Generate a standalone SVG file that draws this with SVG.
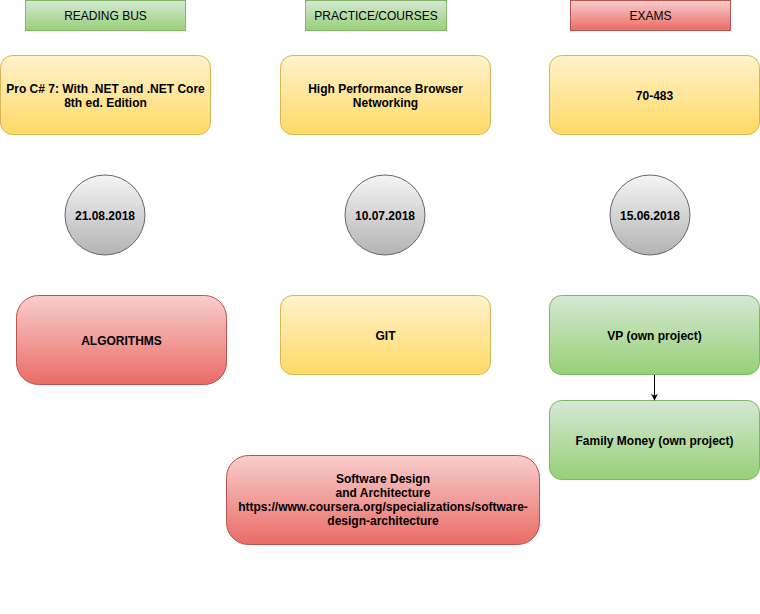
<svg xmlns="http://www.w3.org/2000/svg" width="760" height="614" viewBox="0 0 760 614">
<defs>
<linearGradient id="gGreen" x1="0" y1="0" x2="0" y2="1"><stop offset="0" stop-color="#d5e8d4"/><stop offset="1" stop-color="#97d077"/></linearGradient>
<linearGradient id="gRed" x1="0" y1="0" x2="0" y2="1"><stop offset="0" stop-color="#f8cecc"/><stop offset="1" stop-color="#ea6b66"/></linearGradient>
<linearGradient id="gYellow" x1="0" y1="0" x2="0" y2="1"><stop offset="0" stop-color="#fff2cc"/><stop offset="1" stop-color="#ffd966"/></linearGradient>
<linearGradient id="gGray" x1="0" y1="0" x2="0" y2="1"><stop offset="0" stop-color="#f5f5f5"/><stop offset="1" stop-color="#b3b3b3"/></linearGradient>
<marker id="arr" viewBox="0 0 10 10" refX="9" refY="5" markerWidth="7" markerHeight="7" markerUnits="userSpaceOnUse" orient="auto"><path d="M0,0 L10,5 L0,10 L3,5 Z" fill="#000"/></marker>
</defs>
<style>
text{font-family:Helvetica,"Liberation Sans",Arial,sans-serif;font-size:12px;fill:#000;text-anchor:middle;dominant-baseline:central}
.b{font-weight:bold}
.green{fill:url(#gGreen);stroke:#82b366}
.red{fill:url(#gRed);stroke:#b85450}
.yellow{fill:url(#gYellow);stroke:#d6b656}
.gray{fill:url(#gGray);stroke:#666666}
</style>
<rect width="760" height="614" fill="#fff"/>
<g id="h-reading"><rect class="green" x="25.5" y="0.5" width="160" height="30"/><text x="105.5" y="16">READING BUS</text></g>
<g id="h-practice"><rect class="green" x="305.5" y="0.5" width="141" height="30"/><text x="376" y="16">PRACTICE/COURSES</text></g>
<g id="h-exams"><rect class="red" x="570.5" y="0.5" width="160" height="30"/><text x="650.5" y="16">EXAMS</text></g>
<g id="n-proc"><rect class="yellow" x="0.5" y="55.5" width="210" height="79" rx="12"/><text class="b" x="105.5" y="89">Pro C# 7: With .NET and .NET Core</text><text class="b" x="105.5" y="103">8th ed. Edition</text></g>
<g id="n-hpbn"><rect class="yellow" x="280.5" y="55.5" width="210" height="79" rx="12"/><text class="b" x="385.5" y="89">High Performance Browser</text><text class="b" x="385.5" y="103">Networking</text></g>
<g id="n-exam"><rect class="yellow" x="549.5" y="55.5" width="210" height="79" rx="12"/><text class="b" x="654.5" y="96">70-483</text></g>
<g id="d1"><ellipse class="gray" cx="105" cy="215" rx="40" ry="40"/><text class="b" x="105" y="216">21.08.2018</text></g>
<g id="d2"><ellipse class="gray" cx="385" cy="215" rx="40" ry="40"/><text class="b" x="385" y="216">10.07.2018</text></g>
<g id="d3"><ellipse class="gray" cx="650" cy="215" rx="40" ry="40"/><text class="b" x="650" y="216">15.06.2018</text></g>
<g id="n-alg"><rect class="red" x="16.5" y="295.5" width="210" height="89" rx="22"/><text class="b" x="121.5" y="341">ALGORITHMS</text></g>
<g id="n-git"><rect class="yellow" x="280.5" y="295.5" width="210" height="79" rx="12"/><text class="b" x="385.5" y="336">GIT</text></g>
<g id="n-vp"><rect class="green" x="549.5" y="295.5" width="210" height="79" rx="12"/><text class="b" x="654.5" y="336">VP (own project)</text></g>
<g id="n-fm"><rect class="green" x="549.5" y="400.5" width="210" height="79" rx="12"/><text class="b" x="654.5" y="441">Family Money (own project)</text></g>
<g id="n-sda"><rect class="red" x="226.5" y="455.5" width="313" height="89" rx="22"/><text class="b" x="383" y="479">Software Design</text><text class="b" x="383" y="493">and Architecture</text><text class="b" x="383" y="507">https://www.coursera.org/specializations/software-</text><text class="b" x="383" y="521">design-architecture</text></g>
<g id="connectors"><line x1="654.5" y1="375" x2="654.5" y2="400" stroke="#000" stroke-width="1" marker-end="url(#arr)"/></g>
</svg>
